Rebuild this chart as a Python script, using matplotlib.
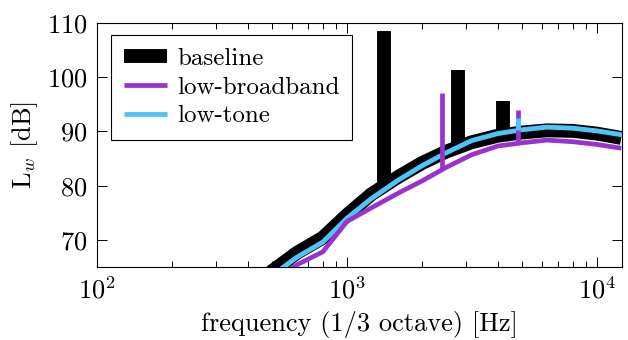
import numpy as np
import matplotlib
matplotlib.use("Agg")
from matplotlib import pyplot as plt

plt.rcParams["font.family"] = ["cmr10"]
plt.rcParams["mathtext.fontset"] = "cm"
plt.rcParams["axes.formatter.use_mathtext"] = True

# 1/3 octave band centres
freq = [400, 500, 630, 800, 1000, 1250, 1600, 2000, 2500, 3150, 4000, 5000, 6300, 8000, 10000, 12500]

baseline = [60.5, 64.2, 67.6, 70.4, 74.6, 78.4, 81.6, 84.2, 86.3, 88.0, 89.2, 89.8, 90.2, 90.1, 89.6, 88.8]
low_broadband = [58.5, 62.3, 65.4, 67.8, 73.4, 75.9, 78.6, 80.9, 83.4, 85.7, 87.3, 87.9, 88.4, 88.1, 87.6, 86.9]
low_tone = [59.5, 63.4, 66.8, 69.6, 74.0, 77.6, 81.0, 83.7, 86.1, 88.3, 89.6, 90.3, 90.8, 90.6, 90.1, 89.4]

# tonal peaks
baseline_tone_f = [1406, 2788, 4207]
baseline_tone_lw = [108.6, 101.4, 95.7]
broadband_tone_f = [2392, 4830]
broadband_tone_lw = [97.1, 94.0]
tone_tone_f = [4830]
tone_tone_lw = [92.4]

c_base = "black"
c_bb = "#9933cc"
c_tone = "#4dc6f7"

fig = plt.figure(figsize=(6.28, 3.4), dpi=100)
ax = fig.add_axes([0.1545, 0.2147, 0.836, 0.7177])


def base_of(tf, lw):
    return np.interp(np.log10(tf), np.log10(freq), lw)


ax.plot(freq, baseline, color=c_base, lw=10, solid_joinstyle="miter",
        solid_capstyle="butt", label="baseline", zorder=2)
ax.vlines(baseline_tone_f, base_of(baseline_tone_f, baseline), baseline_tone_lw,
          color=c_base, lw=10, capstyle="butt", zorder=2)

ax.plot(freq, low_tone, color=c_tone, lw=3.5, solid_joinstyle="miter", zorder=3)
ax.plot(freq, low_broadband, color=c_bb, lw=3.4, solid_joinstyle="miter",
        solid_capstyle="butt", label="low-broadband", zorder=4)
ax.vlines(broadband_tone_f, base_of(broadband_tone_f, low_broadband), broadband_tone_lw,
          color=c_bb, lw=3.4, capstyle="butt", zorder=4)
ax.vlines(tone_tone_f, base_of(tone_tone_f, low_tone), tone_tone_lw,
          color=c_tone, lw=3.5, capstyle="butt", zorder=5)
ax.plot([], [], color=c_tone, lw=3.5, solid_capstyle="butt", label="low-tone")

ax.set_xscale("log")
ax.set_xlim(100, 10 ** 4.1)
ax.set_ylim(65, 110)
ax.set_yticks([70, 80, 90, 100, 110])

for s in ax.spines.values():
    s.set_linewidth(0.8)
ax.tick_params(which="both", direction="in", top=True, right=True, width=0.7, labelsize=19)
ax.tick_params(which="major", length=7, pad=7)
ax.tick_params(which="minor", length=4.3)

ax.set_xlabel("frequency (1/3 octave) [Hz]", fontsize=19, labelpad=5)
ax.set_ylabel(r"L$_w$ [dB]", fontsize=19, labelpad=5)

leg = ax.legend(loc="upper left", bbox_to_anchor=(0.027, 0.951), borderaxespad=0,
                fontsize=18, handlelength=1.75, handletextpad=0.4, labelspacing=0.25,
                borderpad=0.5, fancybox=False, framealpha=1, edgecolor="black")
leg.get_frame().set_linewidth(0.8)

fig.savefig("out.png", dpi=100)
